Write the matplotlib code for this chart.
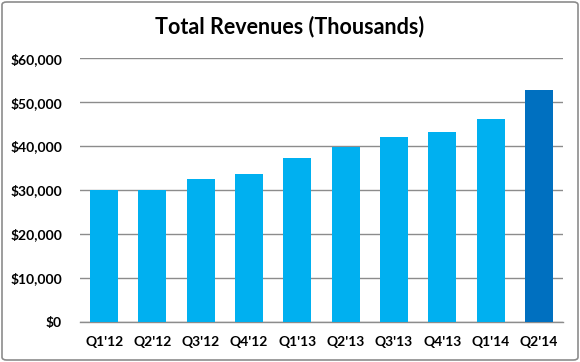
import matplotlib
matplotlib.use("Agg")
import matplotlib.pyplot as plt
from matplotlib.patches import FancyBboxPatch
from matplotlib.ticker import FuncFormatter

quarters = ["Q1'12", "Q2'12", "Q3'12", "Q4'12", "Q1'13", "Q2'13",
            "Q3'13", "Q4'13", "Q1'14", "Q2'14"]
revenues = [30000, 30000, 32500, 33600, 37300, 39800, 42000, 43100, 46100, 52800]
bar_colors = ["#00B0F0"] * 9 + ["#0070C0"]

plt.rcParams['font.family'] = ['Lato', 'DejaVu Sans']

fig = plt.figure(figsize=(5.8, 3.62), dpi=100)
ax = fig.add_axes([80 / 580, 1 - 321.7 / 362, 483 / 580, (321.7 - 58.3) / 362])

x = range(len(quarters))
ax.bar(x, revenues, width=0.58, color=bar_colors, zorder=3)

ax.set_xlim(-0.5, len(quarters) - 0.5)
ax.set_ylim(0, 60000)
ax.set_yticks(range(0, 60001, 10000))
ax.yaxis.set_major_formatter(FuncFormatter(lambda v, p: "${:,.0f}".format(v)))
ax.set_xticks(list(x))
ax.set_xticklabels(quarters)

ax.grid(axis='y', color='#8c8c8c', linewidth=1.0, zorder=0)
ax.set_axisbelow(True)
for s in ['top', 'right', 'left']:
    ax.spines[s].set_visible(False)
ax.spines['bottom'].set_color('#8c8c8c')
ax.spines['bottom'].set_linewidth(1.0)

ax.tick_params(axis='both', length=0, labelsize=10)
ax.tick_params(axis='y', pad=13)
ax.tick_params(axis='x', pad=10)
for lbl in ax.get_xticklabels() + ax.get_yticklabels():
    lbl.set_fontweight('bold')

fig.text(0.5, 1 - 27 / 362, "Total Revenues (Thousands)", ha='center', va='center',
         fontsize=15.5, fontweight='bold')

border = FancyBboxPatch((2 / 580, 2 / 362), 576 / 580, 358 / 362,
                        boxstyle="round,pad=0,rounding_size=0.008",
                        transform=fig.transFigure, fill=False,
                        edgecolor='#8c8c8c', linewidth=1.2)
fig.patches.append(border)

fig.savefig("out.png", dpi=100)
